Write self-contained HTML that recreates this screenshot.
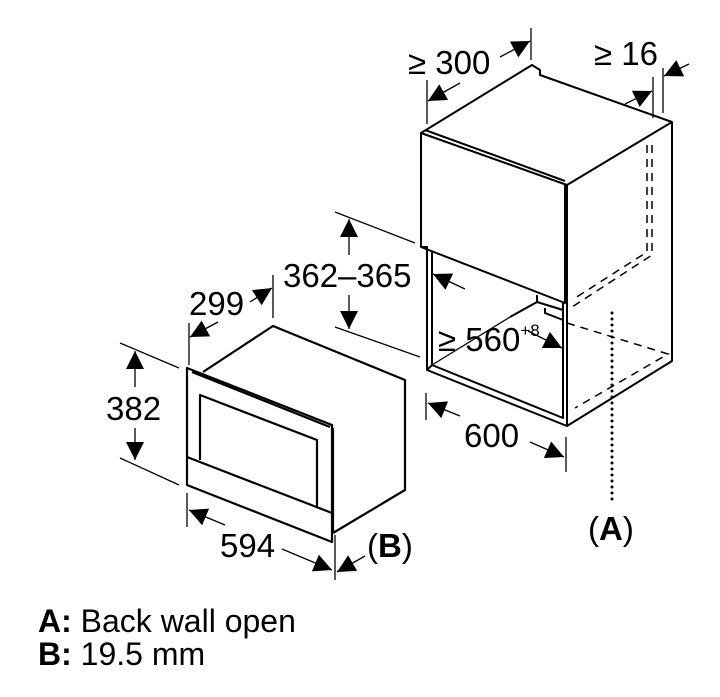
<!DOCTYPE html>
<html><head><meta charset="utf-8"><style>
html,body{margin:0;padding:0;background:#fff;}
svg{display:block;}
text{font-family:"Liberation Sans",sans-serif;fill:#000;}
</style></head><body>
<svg width="720" height="697" viewBox="0 0 720 697" xmlns="http://www.w3.org/2000/svg">
<defs>
<marker id="ab" viewBox="0 0 10 10" refX="10" refY="5" markerWidth="22" markerHeight="18" markerUnits="userSpaceOnUse" orient="auto">
<path d="M0,0 L10,5 L0,10 z" fill="#000"/></marker>
</defs>
<g fill="none" stroke="#000" stroke-width="2" stroke-linejoin="round">
<path d="M421,133 L532,65 L540,70 L540,75 L672,122 L672,361 L567,426 L427,370 L427,247 L421,247 Z"/>
<path d="M421,133 L567,185 L672,122"/>
<path d="M425,130 L565,181"/>
<path d="M421,247 L565,303 L565,185"/>
<path d="M567,185 L567,426"/>
<path d="M432,252 L432,365 L563,418 L563,303"/>
<path d="M427,370 L432,365"/>
<path d="M537,295 L537,302 L510,317 M537,302 L563,310 M545,308 L545,313 L563,320"/>
</g>
<g fill="none" stroke="#000" stroke-width="1.5" stroke-dasharray="8,6">
<path d="M647,145 L647,252 L572,300"/>
<path d="M652,145 L652,255 L572,307"/>
<path d="M567,323 L668,354 L575,408"/>
</g>
<line x1="612" y1="313" x2="612" y2="505" stroke="#000" stroke-width="3" stroke-dasharray="0,6" stroke-linecap="round"/>

<g fill="none" stroke="#000" stroke-width="2.2" stroke-linejoin="round">
<path d="M187,368 L332,425 L332,542 L187,485 Z"/>
<path d="M192,372 L330,427"/>
<path d="M203,372 L273,326 L405,380 L405,490 L333,533"/>
<path d="M333,428 L333,533"/>
<path d="M200,460 L200,395 L317,440 L317,508"/>
<path d="M187,457 L332,513"/>
</g>

<g fill="none" stroke="#000" stroke-width="1.3">
<line x1="427" y1="80" x2="427" y2="124"/>
<line x1="531" y1="28" x2="531" y2="60"/>
<line x1="460" y1="83" x2="428" y2="101" marker-end="url(#ab)"/>
<line x1="500" y1="57" x2="530" y2="41" marker-end="url(#ab)"/>
<line x1="653" y1="77" x2="653" y2="118"/>
<line x1="663" y1="68" x2="663" y2="113"/>
<line x1="625" y1="104" x2="652" y2="91" marker-end="url(#ab)"/>
<line x1="689" y1="64" x2="664" y2="76" marker-end="url(#ab)"/>
<line x1="465" y1="289" x2="433" y2="274" marker-end="url(#ab)"/>
<line x1="528" y1="331" x2="562" y2="348" marker-end="url(#ab)"/>
<line x1="510" y1="317" x2="432" y2="365"/>
<line x1="426" y1="393" x2="426" y2="420"/>
<line x1="566" y1="437" x2="566" y2="472"/>
<line x1="460" y1="416" x2="428" y2="403" marker-end="url(#ab)"/>
<line x1="530" y1="442" x2="564" y2="457" marker-end="url(#ab)"/>
<line x1="335" y1="212" x2="415" y2="243"/>
<line x1="335" y1="327" x2="420" y2="357"/>
<line x1="349" y1="255" x2="349" y2="219" marker-end="url(#ab)"/>
<line x1="349" y1="295" x2="349" y2="329" marker-end="url(#ab)"/>
<line x1="189" y1="323" x2="189" y2="365"/>
<line x1="273" y1="275" x2="273" y2="318"/>
<line x1="218" y1="322" x2="190" y2="337" marker-end="url(#ab)"/>
<line x1="250" y1="302" x2="272" y2="288" marker-end="url(#ab)"/>
<line x1="120" y1="343" x2="179" y2="368"/>
<line x1="120" y1="458" x2="179" y2="485"/>
<line x1="135" y1="387" x2="135" y2="351" marker-end="url(#ab)"/>
<line x1="135" y1="428" x2="135" y2="460" marker-end="url(#ab)"/>
<line x1="187" y1="493" x2="187" y2="527"/>
<line x1="335" y1="535" x2="335" y2="580"/>
<line x1="225" y1="525" x2="189" y2="510" marker-end="url(#ab)"/>
<line x1="282" y1="549" x2="332" y2="570" marker-end="url(#ab)"/>
<line x1="365" y1="556" x2="337" y2="572" marker-end="url(#ab)"/>
</g>

<g font-size="33">
<text x="408" y="74">≥ 300</text>
<text x="594" y="65">≥ 16</text>
<text x="438" y="351">≥ 560<tspan font-size="17" dy="-15">+8</tspan></text>
<text x="464" y="447">600</text>
<text x="283" y="287">362–365</text>
<text x="189" y="315">299</text>
<text x="106" y="420">382</text>
<text x="220" y="557">594</text>
<text x="367" y="557">(<tspan font-weight="bold">B</tspan>)</text>
<text x="588" y="540">(<tspan font-weight="bold">A</tspan>)</text>
</g>
<g font-size="32">
<text x="38" y="632"><tspan font-weight="bold">A:</tspan> Back wall open</text>
<text x="38" y="665"><tspan font-weight="bold">B:</tspan> 19.5 mm</text>
</g>
</svg>
</body></html>
